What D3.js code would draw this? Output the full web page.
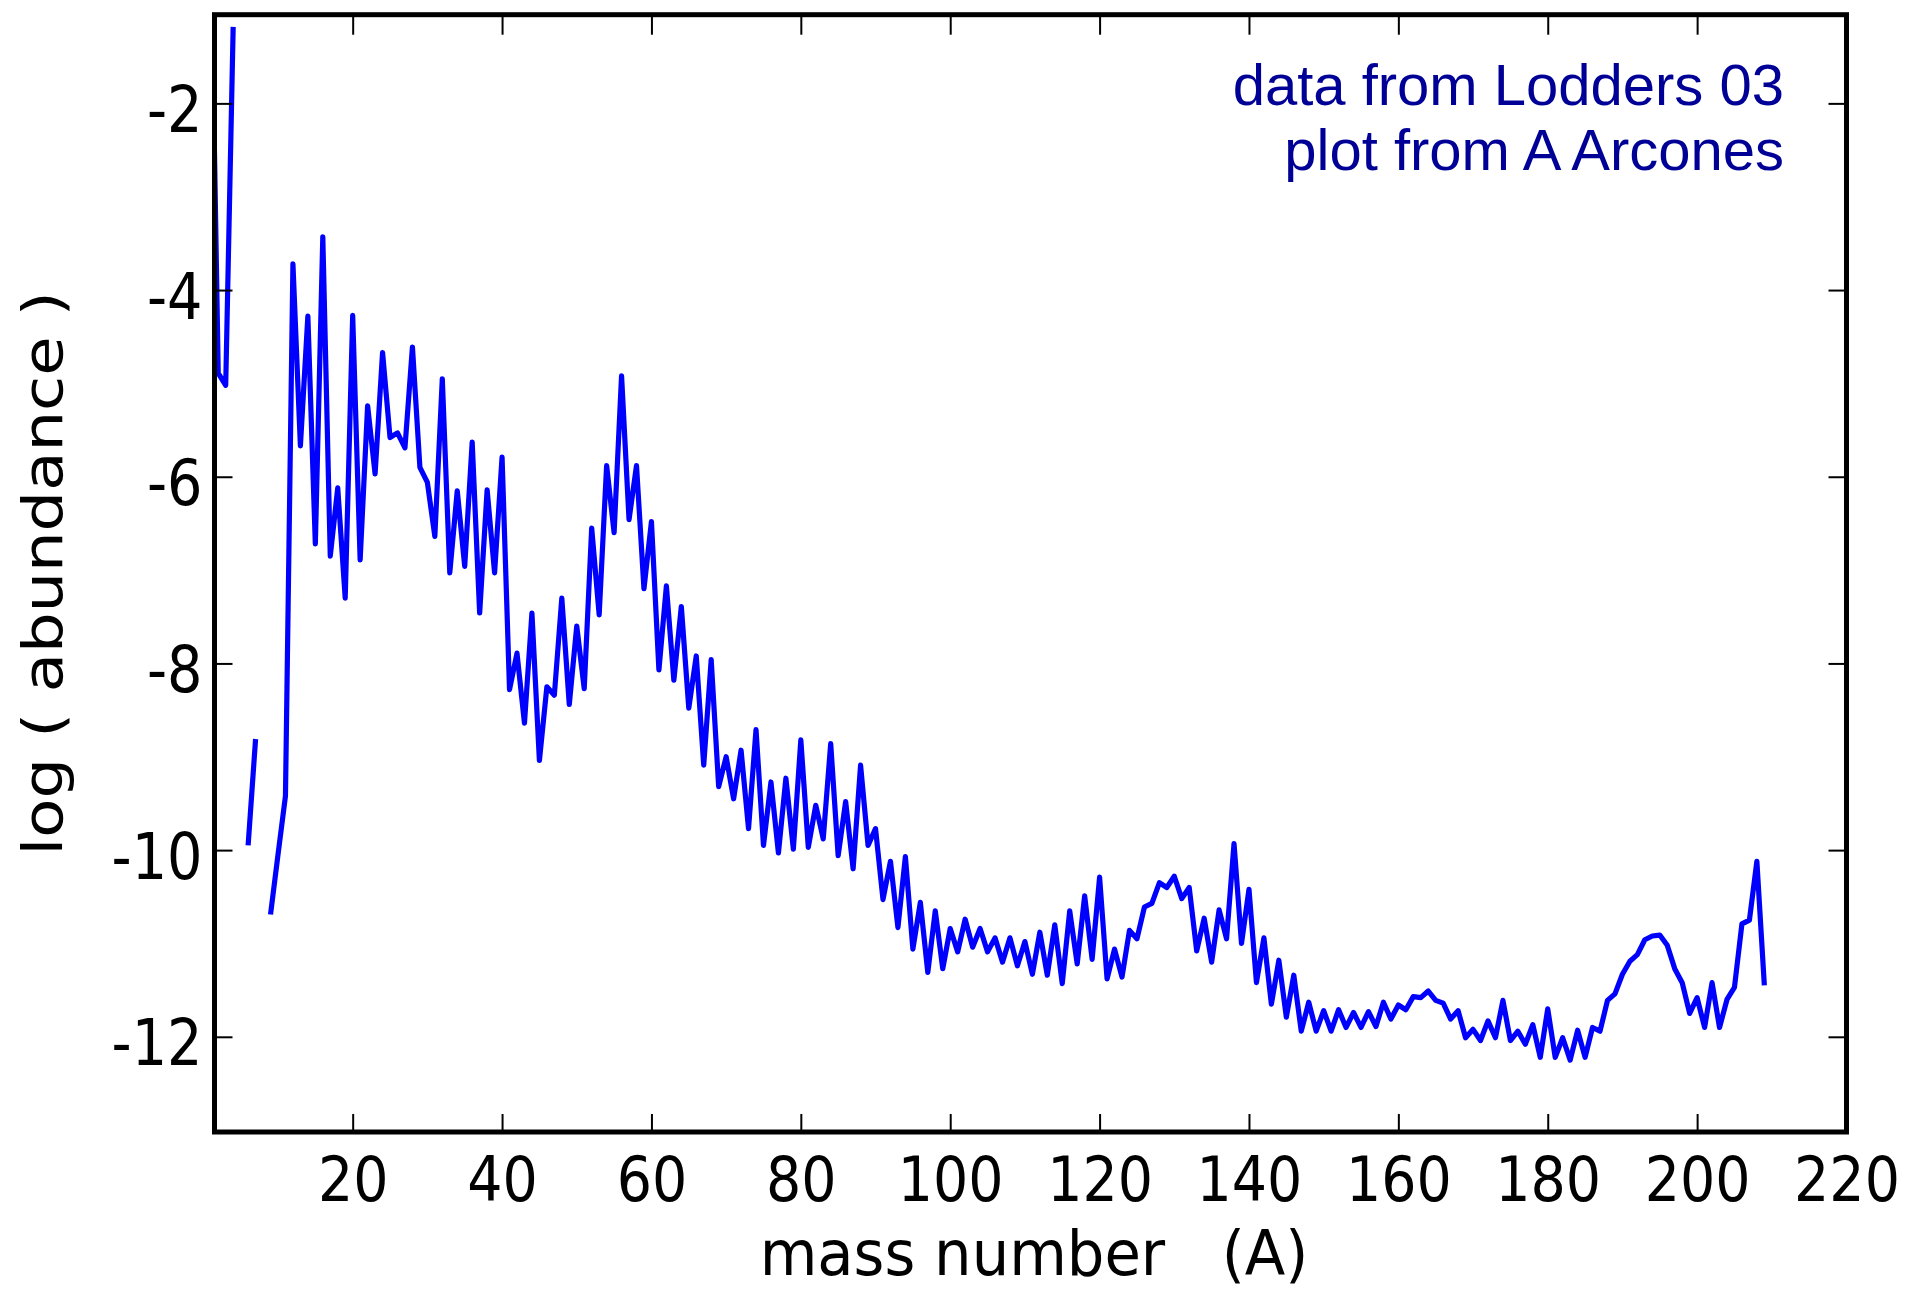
<!DOCTYPE html>
<html>
<head>
<meta charset="utf-8">
<script src="https://cdn.jsdelivr.net/npm/d3@7"></script>
<style>
  html, body { margin: 0; padding: 0; background: #fff; }
  svg { display: block; }
</style>
</head>
<body>
<svg id="chart" width="1906" height="1290"></svg>
<script>
// Solar-system abundances summed per isobar, log10 of the molar abundance Y = X/A.
// Index i holds mass number A = i + 1; null marks the unstable isobars A = 5 and A = 8.
const massNumber = d3.range(1, 210);
const logAbundance = [
  -0.18, -4.89, -5.02, -1.18, null, -9.95, -8.81, null, -10.69, -10.05,   // 1-10
  -9.42, -3.72, -5.67, -4.28, -6.72, -3.43, -6.85, -6.12, -7.30, -4.27,   // 11-20
  -6.89, -5.24, -5.97, -4.67, -5.58, -5.53, -5.69, -4.61, -5.90, -6.06,   // 21-30
  -6.64, -4.95, -7.03, -6.15, -6.96, -5.63, -7.46, -6.14, -7.03, -5.79,   // 31-40
  -8.28, -7.89, -8.64, -7.46, -9.04, -8.25, -8.34, -7.30, -8.44, -7.60,   // 41-50
  -8.27, -6.55, -7.48, -5.88, -6.60, -4.92, -6.46, -5.88, -7.20, -6.48,   // 51-60
  -8.07, -7.17, -8.18, -7.39, -8.48, -7.92, -9.09, -7.96, -9.32, -9.00,   // 61-70
  -9.45, -8.93, -9.77, -8.71, -9.95, -9.27, -10.03, -9.23, -9.99, -8.82,  // 71-80
  -9.97, -9.52, -9.88, -8.86, -10.06, -9.48, -10.20, -9.09, -9.95, -9.77, // 81-90
  -10.53, -10.12, -10.83, -10.07, -11.06, -10.56, -11.31, -10.65, -11.27, -10.84, // 91-100
  -11.09, -10.74, -11.04, -10.84, -11.09, -10.94, -11.20, -10.94, -11.24, -10.98, // 101-110
  -11.33, -10.88, -11.34, -10.80, -11.43, -10.65, -11.22, -10.49, -11.17, -10.29, // 111-120
  -11.38, -11.06, -11.36, -10.86, -10.95, -10.61, -10.57, -10.35, -10.40, -10.28, // 121-130
  -10.52, -10.40, -11.08, -10.73, -11.20, -10.64, -10.95, -9.93, -11.00, -10.42,  // 131-140
  -11.42, -10.94, -11.65, -11.18, -11.79, -11.34, -11.94, -11.63, -11.94, -11.72, // 141-150
  -11.94, -11.71, -11.90, -11.74, -11.90, -11.73, -11.89, -11.63, -11.81, -11.66, // 151-160
  -11.71, -11.57, -11.58, -11.51, -11.61, -11.64, -11.81, -11.72, -12.01, -11.92, // 161-170
  -12.04, -11.83, -12.01, -11.61, -12.04, -11.94, -12.08, -11.87, -12.22, -11.70, // 171-180
  -12.22, -12.01, -12.25, -11.93, -12.22, -11.90, -11.94, -11.61, -11.54, -11.33, // 181-190
  -11.19, -11.12, -10.96, -10.92, -10.91, -11.02, -11.27, -11.42, -11.75, -11.58, // 191-200
  -11.90, -11.42, -11.90, -11.60, -11.47, -10.79, -10.75, -10.12, -11.45          // 201-209
];

const xTickValues = [20, 40, 60, 80, 100, 120, 140, 160, 180, 200, 220];
const yTickValues = [-12, -10, -8, -6, -4, -2];
const xAxisTitle = "mass number   (A)";
const yAxisTitle = "log ( abundance )";
const creditLines = ["data from Lodders 03", "plot from A Arcones"];

const points = massNumber.map((a, i) => ({ a, v: logAbundance[i] }));

// Plot frame in page pixels
const plot = { left: 214.5, right: 1846.5, top: 14.7, bottom: 1132 };

const x = d3.scaleLinear().domain([1.5, 220]).range([plot.left, plot.right]);
const y = d3.scaleLinear().domain([-13.02, -1.05]).range([plot.bottom, plot.top]);

const svg = d3.select("#chart");
const axisFont = "'DejaVu Sans', sans-serif";
const squeeze = 0.87;   // the axis lettering is set slightly condensed

svg.append("defs").append("clipPath").attr("id", "plot-clip")
  .append("rect")
  .attr("x", plot.left).attr("y", plot.top)
  .attr("width", plot.right - plot.left).attr("height", plot.bottom - plot.top);

// Abundance curve
const line = d3.line()
  .defined(d => d.v !== null)
  .x(d => x(d.a))
  .y(d => y(d.v));

svg.append("path")
  .datum(points)
  .attr("clip-path", "url(#plot-clip)")
  .attr("fill", "none")
  .attr("stroke", "#0000ff")
  .attr("stroke-width", 5.2)
  .attr("stroke-linejoin", "round")
  .attr("d", line);

// Axes: inward ticks on all four sides, labels on bottom and left only
function styleTicks(g) {
  g.select(".domain").remove();
  g.selectAll(".tick line").attr("stroke", "#000").attr("stroke-width", 2);
}

const gBottom = svg.append("g")
  .attr("transform", `translate(0,${plot.bottom})`)
  .call(d3.axisBottom(x).tickValues(xTickValues).tickSize(-18).tickFormat(d => String(d)));
styleTicks(gBottom);
gBottom.selectAll(".tick text")
  .attr("y", null).attr("dy", null)
  .attr("transform", `translate(0,69) scale(0.88,1)`)
  .attr("text-anchor", "middle")
  .attr("fill", "#000")
  .style("font-family", axisFont)
  .style("font-size", "63px");

const gLeft = svg.append("g")
  .attr("transform", `translate(${plot.left},0)`)
  .call(d3.axisLeft(y).tickValues(yTickValues).tickSize(-18).tickFormat(d => String(d)));
styleTicks(gLeft);
gLeft.selectAll(".tick text")
  .attr("x", null).attr("dy", null)
  .attr("transform", `translate(-12,28) scale(${squeeze},1)`)
  .attr("text-anchor", "end")
  .attr("fill", "#000")
  .style("font-family", axisFont)
  .style("font-size", "64px");

const gTop = svg.append("g")
  .attr("transform", `translate(0,${plot.top})`)
  .call(d3.axisTop(x).tickValues(xTickValues).tickSize(-20).tickFormat(""));
styleTicks(gTop);

const gRight = svg.append("g")
  .attr("transform", `translate(${plot.right},0)`)
  .call(d3.axisRight(y).tickValues(yTickValues).tickSize(-18).tickFormat(""));
styleTicks(gRight);

// Frame
svg.append("rect")
  .attr("x", plot.left).attr("y", plot.top)
  .attr("width", plot.right - plot.left).attr("height", plot.bottom - plot.top)
  .attr("fill", "none").attr("stroke", "#000").attr("stroke-width", 5);

// Axis titles
svg.append("text")
  .attr("transform", `translate(1034,1275) scale(0.94,1)`)
  .attr("text-anchor", "middle")
  .attr("fill", "#000")
  .style("font-family", axisFont)
  .style("font-size", "63px")
  .style("white-space", "pre")
  .attr("xml:space", "preserve")
  .text(xAxisTitle);

svg.append("text")
  .attr("transform", `translate(62,${(plot.top + plot.bottom) / 2}) scale(${squeeze},1) rotate(-90)`)
  .attr("text-anchor", "middle")
  .attr("fill", "#000")
  .style("font-family", axisFont)
  .style("font-size", "64px")
  .text(yAxisTitle);

// Credit note, top right inside the frame
svg.append("g").selectAll("text")
  .data(creditLines)
  .join("text")
  .attr("x", 1784)
  .attr("y", (d, i) => 105 + i * 65)
  .attr("text-anchor", "end")
  .attr("fill", "#000096")
  .style("font-family", "'Liberation Sans', Arial, sans-serif")
  .style("font-weight", 300)
  .style("font-size", "58px")
  .text(d => d);
</script>
</body>
</html>
